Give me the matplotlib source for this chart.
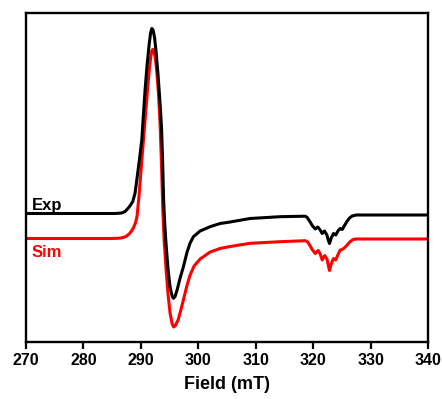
import matplotlib
matplotlib.use("Agg")
import matplotlib.pyplot as plt

# Field (mT) and intensity (a.u.)
exp_field = [270.0, 282.89, 285.5, 286.66, 287.24, 287.81, 288.2, 288.58, 288.98, 289.28,
             289.73, 290.15, 290.37, 290.72, 291.07, 291.42, 291.68, 291.89, 292.11, 292.38,
             292.64, 292.98, 293.33, 293.59, 293.77, 293.94, 294.12, 294.38, 294.73, 295.07,
             295.42, 295.65, 295.94, 296.29, 296.82, 297.39, 298.03, 298.56, 299.13, 300.30,
             302.04, 303.78, 305.52, 309.0, 314.23, 318.58, 318.93, 319.45, 319.80, 320.32,
             320.76, 321.19, 321.54, 321.94, 322.36, 322.59, 322.81, 323.11, 323.51, 323.89,
             324.33, 324.68, 325.02, 325.37, 325.84, 326.29, 326.76, 327.46, 340.0]
exp_int = [0, 0, 0, 0.5, 2, 5.5, 8.5, 12, 20.5, 33.5,
           53.5, 73.5, 93.5, 123.5, 148.5, 168.5, 180.5, 185, 183.5, 175.5,
           161.5, 138.5, 110, 85, 53.5, 15, -8.5, -31.5, -56.5, -73.5,
           -82.5, -84.8, -83, -76.5, -64.5, -53.2, -38.5, -29.5, -23.2, -17.5,
           -13.2, -10, -8.5, -5, -3.2, -2.7, -4, -8.5, -12, -15.5,
           -13.5, -16.5, -20, -17.5, -21.5, -26.5, -30, -24.5, -20, -21.5,
           -17, -15, -16, -12.5, -8, -4.5, -2.5, -1.5, -1.5]

sim_field = [270.0, 284.63, 286.02, 286.72, 287.41, 287.94, 288.37, 288.72, 289.07, 289.33,
             289.68, 290.02, 290.37, 290.72, 291.07, 291.42, 291.68, 291.89, 292.06, 292.29,
             292.55, 292.81, 293.07, 293.33, 293.59, 293.80, 294.03, 294.38, 294.73, 295.07,
             295.42, 295.68, 295.94, 296.47, 296.99, 297.51, 298.03, 298.56, 299.25, 300.30,
             302.04, 303.78, 305.52, 309.0, 314.23, 318.58, 319.02, 319.45, 319.80, 320.32,
             320.84, 321.19, 321.54, 321.98, 322.36, 322.59, 322.81, 323.11, 323.51, 323.89,
             324.33, 324.68, 325.02, 325.37, 325.89, 326.42, 326.94, 327.46, 340.0]
sim_int = [0, 0, 0.2, 0.7, 2, 4.5, 7.5, 11, 16, 22.5,
           43.5, 68.5, 93.5, 118.5, 143.5, 166.5, 180.5, 187.5, 189.2, 187,
           178.5, 163.5, 143.5, 115, 72, 30, -1.5, -31.5, -56.5, -74.5,
           -85, -88.5, -87.5, -81.5, -70.5, -58.5, -46.5, -36.5, -27.5, -20.5,
           -13.5, -10, -8, -4.8, -3.2, -2.2, -3.5, -7.5, -11, -15,
           -12, -15.5, -21.5, -17, -20.5, -26.5, -32, -25.5, -20, -21.5,
           -15.5, -11.5, -11, -9.5, -6.5, -3, -1, -0.5, -0.5]

labels = ["Exp", "Sim"]
x_ticks = [270, 280, 290, 300, 310, 320, 330, 340]

exp_offset = 128.2
sim_offset = 103.2

plt.rcParams['font.family'] = ['Liberation Sans', 'DejaVu Sans']
plt.rcParams['font.weight'] = 'bold'

fig = plt.figure(figsize=(4.42, 3.99), dpi=100)
ax = fig.add_axes([0.0588, 0.1436, 0.9102, 0.8231])

ax.plot(sim_field, [v + sim_offset for v in sim_int], color='#ff0000', lw=2.2,
        solid_joinstyle='round')
ax.plot(exp_field, [v + exp_offset for v in exp_int], color='black', lw=2.2,
        solid_joinstyle='round')

ax.text(271.0, exp_offset + 3.5, labels[0], color='black', fontsize=12,
        fontweight='bold', ha='left', va='baseline')
ax.text(271.0, sim_offset - 18.5, labels[1], color='#ff0000', fontsize=12,
        fontweight='bold', ha='left', va='baseline')

ax.set_xlim(270, 340)
ax.set_ylim(0, 328.4)
ax.set_xticks(x_ticks)
ax.set_xticklabels([str(t) for t in x_ticks], fontsize=11.5, fontweight='bold')
ax.set_yticks([])
ax.tick_params(axis='x', direction='out', length=5, width=1.6, pad=3)
for s in ax.spines.values():
    s.set_linewidth(1.7)
ax.set_xlabel("Field (mT)", fontsize=13, fontweight='bold', labelpad=6)

fig.savefig("out.png", dpi=100)
